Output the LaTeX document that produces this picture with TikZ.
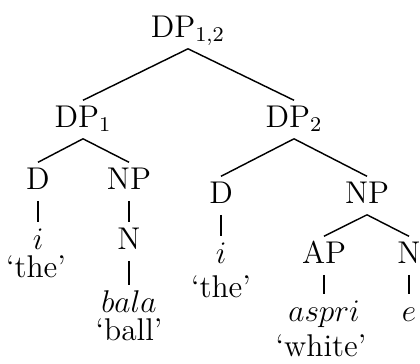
\documentclass[tikz,border=0pt]{standalone}
\begin{document}
\begin{tikzpicture}[x=0.3817pt,y=-0.3817pt,
  tn/.style={anchor=base, font=\fontsize{12}{14}\selectfont, inner xsep=0pt, inner ysep=1.6pt, text height=8.4pt, text depth=2.7pt},
  lf/.style={tn, text depth=0pt, inner ysep=1.6pt},
  gl/.style={anchor=base, font=\fontsize{12}{14}\selectfont, inner sep=0pt},
  br/.style={line width=0.55pt}]
\useasboundingbox (0,0) rectangle (420,363);
\node[tn] (dp12) at (188,37) {DP$_{1,2}$};
\node[tn] (dp1) at (83,127) {DP$_1$};
\node[tn] (dp2) at (294,127) {DP$_2$};
\node[tn] (d1) at (38,189) {D};
\node[tn] (np1) at (129,189) {NP};
\node[lf] (i1) at (38,249) {$i$};
\node[gl] (the1) at (36,277) {`the'};
\node[tn] (n1) at (129,249) {N};
\node[lf] (bala) at (129,312) {$bala$};
\node[gl] (ball) at (129,340) {`ball'};
\node[tn] (d2) at (221,203) {D};
\node[tn] (np2) at (367,203) {NP};
\node[lf] (i2) at (221,263) {$i$};
\node[gl] (the2) at (221,297) {`the'};
\node[tn] (ap) at (324,263) {AP};
\node[tn] (n2) at (409,263) {N};
\node[lf] (aspri) at (324,321) {$aspri$};
\node[gl] (white) at (321,356) {`white'};
\node[lf] (e) at (409,321) {$e$};
\draw[br] (dp12.south) -- (dp1.north);
\draw[br] (dp12.south) -- (dp2.north);
\draw[br] (dp1.south) -- (d1.north);
\draw[br] (dp1.south) -- (np1.north);
\draw[br] (d1.south) -- (i1.north);
\draw[br] (np1.south) -- (n1.north);
\draw[br] (n1.south) -- (bala.north);
\draw[br] (dp2.south) -- (d2.north);
\draw[br] (dp2.south) -- (np2.north);
\draw[br] (d2.south) -- (i2.north);
\draw[br] (np2.south) -- (ap.north);
\draw[br] (np2.south) -- (n2.north);
\draw[br] (ap.south) -- (aspri.north);
\draw[br] (n2.south) -- (e.north);
\end{tikzpicture}
\end{document}
